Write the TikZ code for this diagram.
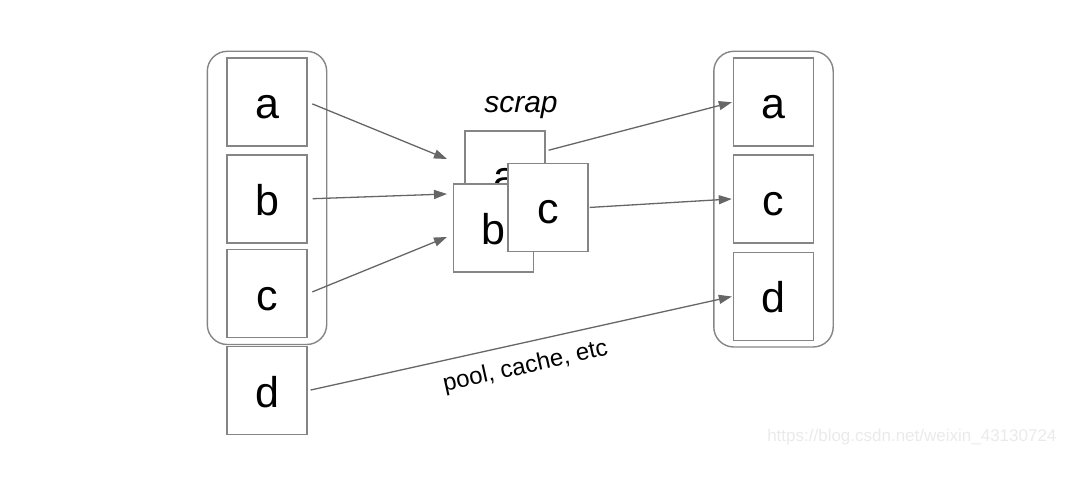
\documentclass[tikz,border=0pt]{standalone}
\usepackage{fontspec}
\setmainfont{Liberation Sans}
\usetikzlibrary{positioning,fit,arrows.meta}
\definecolor{boxgray}{HTML}{858585}
\definecolor{arrowgray}{HTML}{666666}
\definecolor{markgray}{HTML}{EAEAEA}
\begin{document}
\begin{tikzpicture}[x=1pt,y=-1pt,
    cell/.style={draw=boxgray,line width=1.4pt,fill=white,minimum width=80pt,minimum height=88pt,
      inner sep=0pt,text height=33pt,text depth=0pt,font=\fontsize{43}{43}\selectfont},
    holder/.style={draw=boxgray,line width=1.4pt,rounded corners=20pt,inner xsep=19pt,inner ysep=6pt},
    link/.style={draw=arrowgray,line width=1.3pt,-{Triangle[length=13pt,width=9pt]}}]
    \useasboundingbox (0,0) rectangle (1080,494);
    % left column
    \node[cell] (la) at (267,102) {a};
    \node[cell,below=7.5pt of la] (lb) {b};
    \node[cell,below=5.5pt of lb] (lc) {c};
    \node[cell,below=7.5pt of lc] (ld) {d};
    \node[holder,fit=(la) (lc)] (lbox) {};
    % scrap
    \node[font=\fontsize{30}{30}\selectfont\itshape,anchor=base] (scrap) at (521,113) {scrap};
    \node[cell] (sa) at (505,175) {a};
    \node[cell] (sb) at (493.5,228) {b};
    \node[cell] (sc) at (548,207.5) {c};
    % right column
    \node[cell] (ra) at (773.5,102) {a};
    \node[cell,below=7.5pt of ra] (rc) {c};
    \node[cell,below=8pt of rc] (rd) {d};
    \node[holder,fit=(ra) (rd)] (rbox) {};
    % arrows
    \coordinate (ta) at (447,159);
    \coordinate (tb) at (447,194);
    \coordinate (tc) at (447,237);
    \draw[link,shorten <=5pt] (la.east) -- (ta);
    \draw[link,shorten <=5pt] (lb.east) -- (tb);
    \draw[link,shorten <=5pt] (lc.east) -- (tc);
    \draw[link,shorten <=3pt,shorten >=1pt] ([yshift=24pt]sa.east) -- (ra.west);
    \draw[link,shorten <=1pt,shorten >=1pt] (sc.east) -- (rc.west);
    \draw[link,shorten <=3pt,shorten >=1pt] (ld.east) -- (rd.west)
        node[midway,sloped,below=9pt,font=\fontsize{24}{24}\selectfont] (pool) {pool, cache, etc};
    \node[text=markgray,font=\fontsize{17}{17}\selectfont,anchor=east] (mark) at (1060,437) {https://blog.csdn.net/weixin\_43130724};
\end{tikzpicture}
\end{document}
